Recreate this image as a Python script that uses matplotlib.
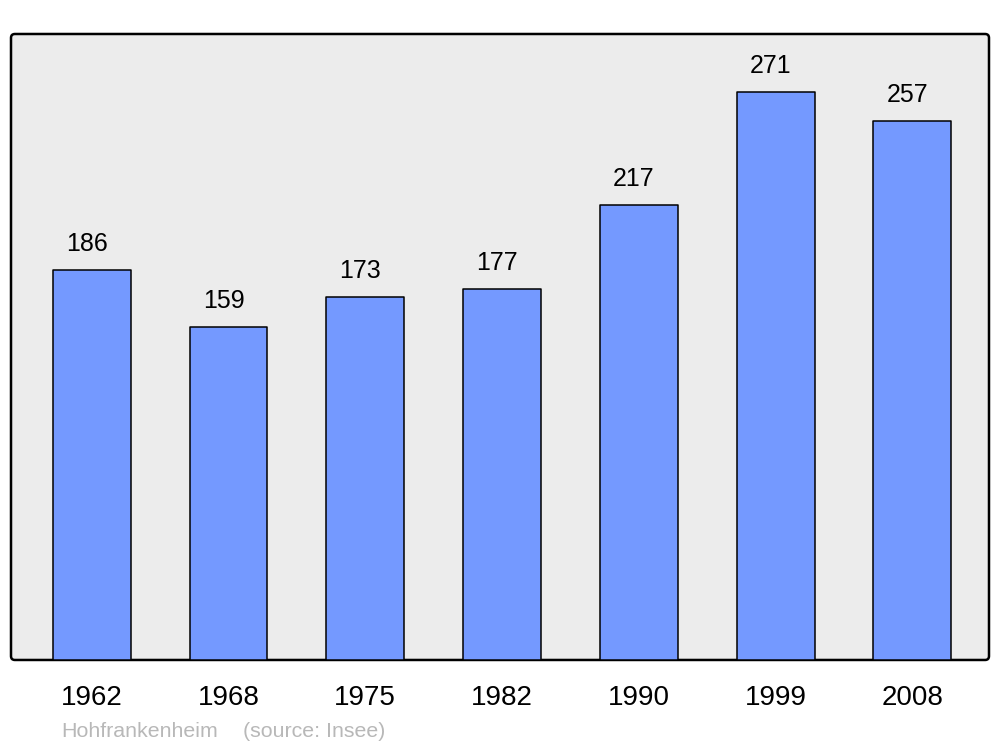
import matplotlib
matplotlib.use("Agg")
import matplotlib.pyplot as plt
from matplotlib.patches import FancyBboxPatch

# ================================
# DATA
# ================================
years = ["1962", "1968", "1975", "1982", "1990", "1999", "2008"]
population = [186, 159, 173, 177, 217, 271, 257]
commune = "Hohfrankenheim"
source = "(source: Insee)"

BAR_COLOR = "#7499ff"
BG_COLOR = "#ececec"

plt.rcParams["font.family"] = ["Liberation Sans", "DejaVu Sans"]

fig = plt.figure(figsize=(10, 7.47), dpi=100)
ax = fig.add_axes([0.011, 0.1165, 0.978, 0.838])
ax.set_facecolor(BG_COLOR)
ax.patch.set_visible(False)

# rounded background frame
frame = FancyBboxPatch((0, 0), 1, 1, boxstyle="round,pad=0,rounding_size=0.004",
                       mutation_aspect=978 / 626, transform=ax.transAxes,
                       facecolor=BG_COLOR, edgecolor="black", linewidth=1.8,
                       zorder=0, clip_on=False)
ax.add_patch(frame)
for s in ax.spines.values():
    s.set_visible(False)

x = list(range(len(years)))
bars = ax.bar(x, population, width=0.57, color=BAR_COLOR, edgecolor="black",
              linewidth=1.1, joinstyle="round", zorder=2)

for xi, v in zip(x, population):
    ax.annotate(str(v), (xi, v), xytext=(-3.5, 13.7), textcoords="offset points",
                ha="center", va="baseline", fontsize=18, color="black")

ax.set_xlim(-0.59, 6.56)
ax.set_ylim(0, 298.6)
ax.set_yticks([])
ax.set_xticks(x)
ax.set_xticklabels(years, fontsize=20)
ax.tick_params(axis="x", length=0, pad=32.4)
for lbl in ax.get_xticklabels():
    lbl.set_va("baseline")

fig.text(0.061, 0.0134, commune, fontsize=15.4, color="#b8b8b8", va="baseline")
fig.text(0.243, 0.0134, source, fontsize=15.4, color="#b8b8b8", va="baseline")

fig.savefig("out.png", dpi=100, facecolor="white")
